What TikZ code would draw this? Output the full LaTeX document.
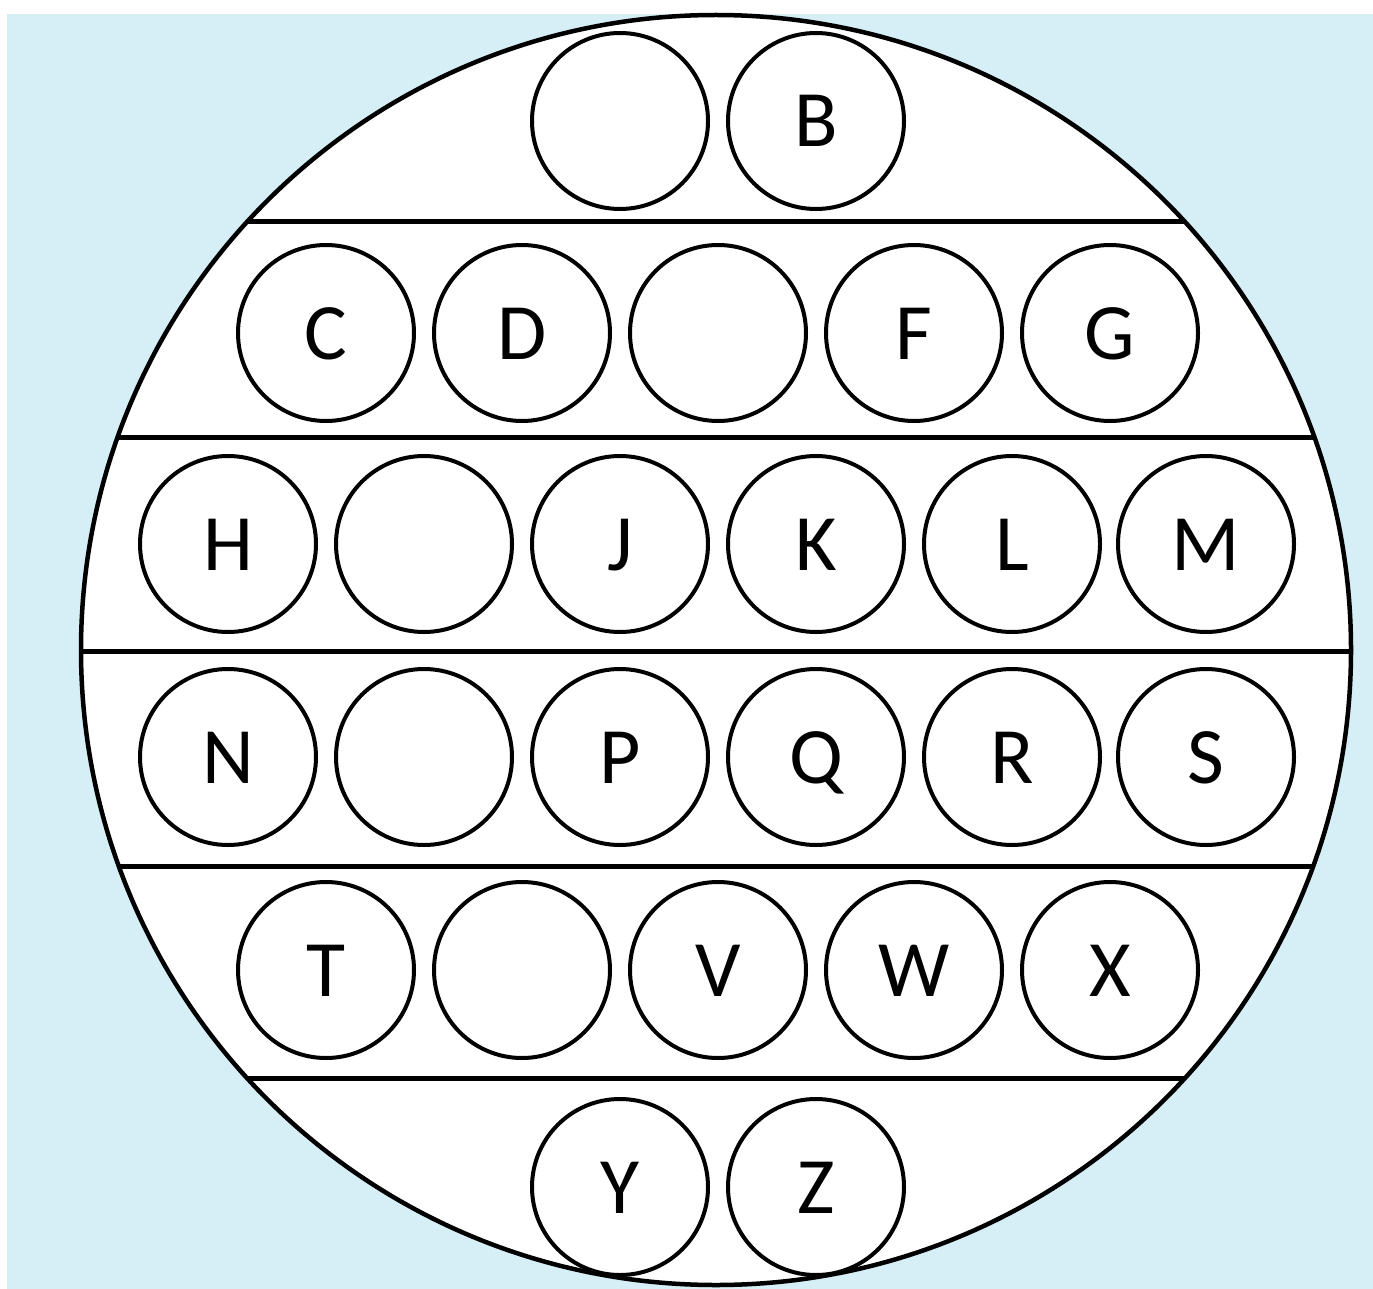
\documentclass[tikz,border=0pt]{standalone}
\usepackage{fontspec}
\setmainfont{Carlito}
\definecolor{bgblue}{RGB}{214,238,245}
\begin{document}
\begin{tikzpicture}[x=1pt,y=-1pt,
  ball/.style={circle,draw=black,line width=4pt,fill=white,minimum size=176pt,inner sep=0pt,
    font=\fontsize{80}{90}\selectfont,text height=52pt,text depth=0pt},
  sep/.style={line width=5pt,black},
  rim/.style={line width=4.5pt,black}]
\useasboundingbox (0,0) rectangle (1373,1289);
\fill[white] (0,0) rectangle (1373,1289);
\fill[bgblue] (7,14) rectangle (1373,1289);
\coordinate (O) at (716,650);
\fill[white] (O) circle[radius=635];
\begin{scope}
  \clip (O) circle[radius=635];
  \foreach \yy/\nm in {222/a,437/b,651/c,866/d,1078/e}{
    \coordinate (l\nm) at (0,\yy);
    \coordinate (r\nm) at (1373,\yy);
    \draw[sep] (l\nm) -- (r\nm);
  }
\end{scope}
\draw[rim] (O) circle[radius=635];
% row 1
\node[ball] (A) at (620,121) {};
\node[ball] (B) at (816,121) {B};
% row 2
\node[ball] (C) at (326,333) {C};
\node[ball] (D) at (522,333) {D};
\node[ball] (E) at (718,333) {};
\node[ball] (F) at (914,333) {F};
\node[ball] (G) at (1110,333) {G};
% row 3
\node[ball] (H) at (228,544) {H};
\node[ball] (I) at (424,544) {};
\node[ball] (J) at (620,544) {J};
\node[ball] (K) at (816,544) {K};
\node[ball] (L) at (1012,544) {L};
\node[ball] (M) at (1206,544) {M};
% row 4
\node[ball] (N) at (228,757) {N};
\node[ball] (O2) at (424,757) {};
\node[ball] (P) at (620,757) {P};
\node[ball] (Q) at (816,757) {Q};
\node[ball] (R) at (1012,757) {R};
\node[ball] (S) at (1206,757) {S};
% row 5
\node[ball] (T) at (326,970) {T};
\node[ball] (U) at (522,970) {};
\node[ball] (V) at (718,970) {V};
\node[ball] (W) at (914,970) {W};
\node[ball] (X) at (1110,970) {X};
% row 6
\node[ball] (Y) at (620,1187) {Y};
\node[ball] (Z) at (816,1187) {Z};
\end{tikzpicture}
\end{document}
